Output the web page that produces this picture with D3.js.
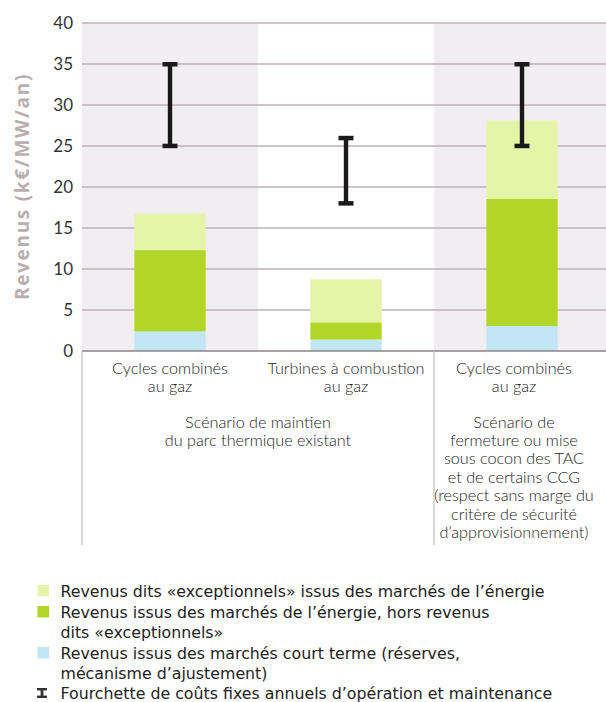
<!DOCTYPE html>
<html><head><meta charset="utf-8">
<script src="https://cdn.jsdelivr.net/npm/d3@7"></script>
<style>body{margin:0;background:#fff;} svg{display:block;}</style>
</head><body>
<svg id="c" width="606" height="702"></svg>
<script>
const categories = ["CCG1", "TAC", "CCG2"];
const categoryLabels = [["Cycles combinés","au gaz"],["Turbines à combustion","au gaz"],["Cycles combinés","au gaz"]];
const shortTerm = [2.4, 1.4, 3.05];
const energy = [9.9, 2.1, 15.5];
const exceptional = [4.45, 5.25, 9.55];
const costLow = [25, 18, 25];
const costHigh = [35, 26, 35];
const yTicks = [0,5,10,15,20,25,30,35,40];
const legendLabels = [
  ["Revenus dits «exceptionnels» issus des marchés de l’énergie"],
  ["Revenus issus des marchés de l’énergie, hors revenus","dits «exceptionnels»"],
  ["Revenus issus des marchés court terme (réserves,","mécanisme d’ajustement)"],
  ["Fourchette de coûts fixes annuels d’opération et maintenance"]
];
const scenario1 = ["Scénario de maintien","du parc thermique existant"];
const scenario2 = ["Scénario de","fermeture ou mise","sous cocon des TAC","et de certains CCG","(respect sans marge du","critère de sécurité","d’approvisionnement)"];
const colors = {exc:"#e6f4aa", energy:"#b2d627", st:"#c1e6f4"};

(function(){
const svg = d3.select("#c");
const pLeft = 82, pRight = 610, pTop = 23, pBottom = 351;
const x = d3.scaleBand().domain(categories).range([pLeft, pRight]).paddingInner(0).paddingOuter(0);
const y = d3.scaleLinear().domain([0, 40]).range([pBottom, pTop]);
const bw = x.bandwidth()*0.405;

svg.selectAll("rect.band").data(categories).enter().append("rect")
  .attr("x", d=>x(d)).attr("y", pTop).attr("width", x.bandwidth()).attr("height", pBottom-pTop)
  .attr("fill", (d,i)=> i===1 ? "#ffffff" : "#f0eef0");

svg.selectAll("line.grid").data(yTicks.filter(t=>t>0)).enter().append("line")
  .attr("x1", pLeft).attr("x2", pRight).attr("y1", d=>y(d)).attr("y2", d=>y(d))
  .attr("stroke", "#bfb1b8").attr("stroke-width", 1.3);

svg.selectAll("text.tick").data(yTicks).enter().append("text")
  .attr("x", 73).attr("y", d=>y(d)).attr("dy", "0.36em").attr("text-anchor","end")
  .attr("font-family","Lato, sans-serif").attr("font-size", 17).attr("fill","#333")
  .text(d=>d);

const stackData = categories.map((c,i)=>({c, st:shortTerm[i], energy:energy[i], exc:exceptional[i]}));
const series = d3.stack().keys(["st","energy","exc"])(stackData);
svg.selectAll("g.series").data(series).enter().append("g")
  .attr("fill", d=>colors[d.key])
  .selectAll("rect").data(d=>d).enter().append("rect")
  .attr("x", d=>x(d.data.c)+x.bandwidth()/2-bw/2).attr("width", bw)
  .attr("y", d=>y(d[1])).attr("height", d=>y(d[0])-y(d[1]));

svg.append("line").attr("x1", pLeft).attr("x2", pRight).attr("y1", pBottom).attr("y2", pBottom)
  .attr("stroke","#8a8587").attr("stroke-width",1.5);
[pLeft, x(categories[2])].forEach(sx=>{
  svg.append("line").attr("x1", sx).attr("x2", sx).attr("y1", pBottom).attr("y2", 545)
    .attr("stroke","#c9bfc3").attr("stroke-width",1.3);
});

const eb = svg.append("g").attr("fill","#1a1a1a");
categories.forEach((c,i)=>{
  const cx = x(c)+x.bandwidth()/2;
  eb.append("rect").attr("x", cx-2.2).attr("width",4.4).attr("y", y(costHigh[i])).attr("height", y(costLow[i])-y(costHigh[i]));
  eb.append("rect").attr("x", cx-7.5).attr("width",15).attr("y", y(costHigh[i])-2).attr("height",4.5);
  eb.append("rect").attr("x", cx-7.5).attr("width",15).attr("y", y(costLow[i])-2.3).attr("height",4.5);
});

const catFont = "Lato, sans-serif";
const catSize = 16.2;
const catWeight = 300;
const catFill = "#1c1c1c";
categoryLabels.forEach((lines,i)=>{
  const cx = x(categories[i])+x.bandwidth()/2 + (i===2 ? -8 : 0);
  lines.forEach((t,j)=>{
    svg.append("text").attr("x", cx).attr("y", 373.5+j*18.5).attr("text-anchor","middle")
      .attr("font-family",catFont).attr("font-size",catSize).attr("font-weight",catWeight).attr("fill",catFill).text(t);
  });
});
const s1x = (x(categories[0])+x(categories[1])+x.bandwidth())/2;
scenario1.forEach((t,j)=>{
  svg.append("text").attr("x", s1x).attr("y", 427.5+j*18.5).attr("text-anchor","middle")
    .attr("font-family",catFont).attr("font-size",catSize).attr("font-weight",catWeight).attr("fill",catFill).text(t);
});
const s2x = x(categories[2])+x.bandwidth()/2 - 8;
scenario2.forEach((t,j)=>{
  svg.append("text").attr("x", s2x).attr("y", 427.5+j*18.4).attr("text-anchor","middle")
    .attr("font-family",catFont).attr("font-size",catSize).attr("font-weight",catWeight).attr("fill",catFill).text(t);
});

svg.append("text").attr("transform","translate(28.5,186.5) rotate(-90)").attr("text-anchor","middle")
  .attr("font-family","'Open Sans', sans-serif").attr("font-weight",700).attr("font-size",19)
  .attr("fill","#b9afb1").attr("letter-spacing",1.7).text("Revenus (k€/MW/an)");

const lg = svg.append("g");
const legendRows = [596.5, 617.5, 638, 658.5, 678.5, 698.5];
const legFont = "'DejaVu Sans', Verdana, sans-serif";
const legColors = [colors.exc, colors.energy, colors.st];
let row = 0;
legendLabels.forEach((lines,i)=>{
  const ry = legendRows[row];
  if (i<3) {
    lg.append("rect").attr("x",37.5).attr("y", ry-11.5).attr("width",11.5).attr("height",11.5).attr("fill",legColors[i]);
  } else {
    lg.append("rect").attr("x",37).attr("y", ry-10.5).attr("width",10).attr("height",2.4).attr("fill","#333");
    lg.append("rect").attr("x",40.6).attr("y", ry-10.5).attr("width",2.8).attr("height",10).attr("fill","#333");
    lg.append("rect").attr("x",37).attr("y", ry-2.9).attr("width",10).attr("height",2.4).attr("fill","#333");
  }
  lines.forEach((t,j)=>{
    lg.append("text").attr("x",60.5).attr("y", legendRows[row]).attr("font-family",legFont)
      .attr("font-size",15.8).attr("fill","#222").text(t);
    row++;
  });
});
})();
</script>
</body></html>
